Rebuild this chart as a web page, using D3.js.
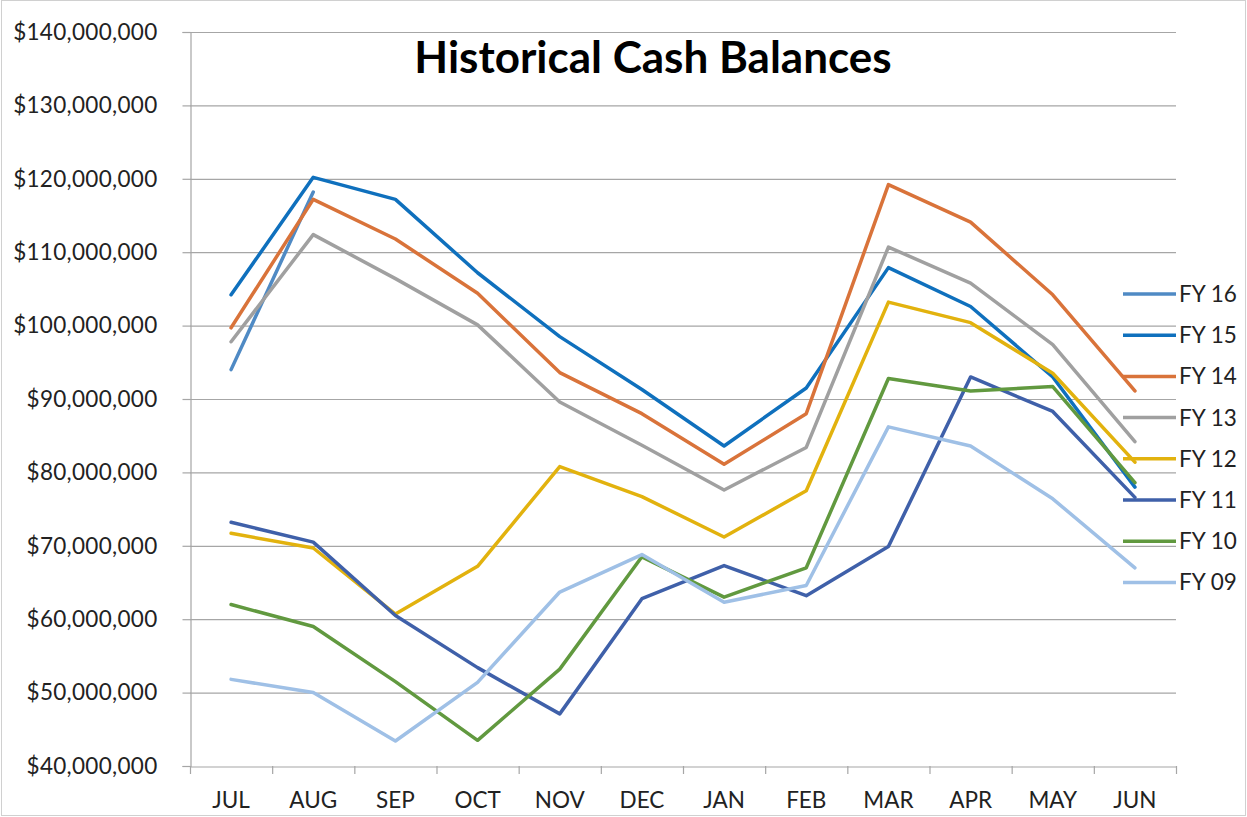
<!DOCTYPE html>
<html>
<head>
<meta charset="utf-8">
<script src="https://cdn.jsdelivr.net/npm/d3@7/dist/d3.min.js"></script>
<style>
  html, body { margin: 0; padding: 0; background: #fff; }
  svg { display: block; }
</style>
</head>
<body>
<svg id="chart" width="1247" height="817"></svg>
<script>
// ---- data (values in $ millions) ----
const months = ["JUL","AUG","SEP","OCT","NOV","DEC","JAN","FEB","MAR","APR","MAY","JUN"];
const seriesNames = ["FY 16","FY 15","FY 14","FY 13","FY 12","FY 11","FY 10","FY 09"];
const fy16 = [94.0, 118.2];
const fy15 = [104.2, 120.2, 117.2, 107.2, 98.5, 91.3, 83.6, 91.5, 107.9, 102.6, 93.0, 78.0];
const fy14 = [99.7, 117.2, 111.8, 104.4, 93.6, 88.0, 81.1, 88.0, 119.2, 114.1, 104.2, 91.1];
const fy13 = [97.8, 112.4, 106.4, 100.1, 89.6, 83.7, 77.6, 83.4, 110.7, 105.8, 97.4, 84.2];
const fy12 = [71.7, 69.7, 60.7, 67.2, 80.8, 76.7, 71.2, 77.5, 103.2, 100.4, 93.5, 81.4];
const fy11 = [73.2, 70.5, 60.5, 53.4, 47.1, 62.8, 67.3, 63.2, 69.9, 93.0, 88.3, 76.6];
const fy10 = [62.0, 59.0, 51.5, 43.5, 53.2, 68.5, 63.0, 67.0, 92.8, 91.1, 91.7, 78.6];
const fy09 = [51.8, 50.0, 43.4, 51.4, 63.7, 68.8, 62.3, 64.6, 86.2, 83.6, 76.4, 67.0];
const yTicks = [40,50,60,70,80,90,100,110,120,130,140];
const colors = ["#4f8ac4","#0f70bd","#d9733a","#a0a0a0","#e2b20e","#3f60a9","#61993f","#9fc0e6"];
const title = "Historical Cash Balances";

const allSeries = [fy16, fy15, fy14, fy13, fy12, fy11, fy10, fy09];

// ---- layout ----
const svg = d3.select("#chart");
const mLeft = 190, mRight = 1176, mTop = 32, mBottom = 766;
const FONT = "Lato, 'Open Sans', sans-serif";

svg.append("rect").attr("x",1.5).attr("y",0.5).attr("width",1244).attr("height",815)
  .attr("fill","#fff").attr("stroke","#d0d0d0").attr("stroke-width",1);

const x = d3.scaleBand().domain(months).range([mLeft, mRight]).padding(0);
const y = d3.scaleLinear().domain([40, 140]).range([mBottom, mTop]);

const fmt = v => "$" + d3.format(",")(v * 1000000);

// gridlines
svg.append("g").selectAll("line").data(yTicks.filter(t => t > 40)).join("line")
  .attr("x1", mLeft).attr("x2", mRight)
  .attr("y1", d => y(d) + 0.5).attr("y2", d => y(d) + 0.5)
  .attr("stroke", "#a6a6a6").attr("stroke-width", 1.2);

// y axis
const yAxis = svg.append("g").attr("transform", `translate(${mLeft+0.5},0)`)
  .call(d3.axisLeft(y).tickValues(yTicks).tickFormat(fmt).tickSize(8).tickPadding(25));
yAxis.select(".domain").attr("stroke", "#a6a6a6").attr("stroke-width", 1.2);
yAxis.selectAll(".tick line").attr("stroke", "#a6a6a6").attr("stroke-width", 1.2);
yAxis.selectAll("text").attr("font-family", FONT)
  .attr("font-size", 22.5).attr("letter-spacing", 0.3).attr("fill", "#222");

// x axis
const xAxis = svg.append("g").attr("transform", `translate(0,${mBottom+0.5})`)
  .call(d3.axisBottom(x).tickSize(0).tickPadding(26));
xAxis.select(".domain").attr("stroke", "#a6a6a6").attr("stroke-width", 1.2);
xAxis.selectAll("text").attr("font-family", FONT)
  .attr("font-size", 22.5).attr("fill", "#222");
// tick marks at band boundaries
const boundaries = months.map(m => x(m)).concat([mRight]);
svg.append("g").selectAll("line").data(boundaries).join("line")
  .attr("x1", d => d + 0.5).attr("x2", d => d + 0.5)
  .attr("y1", mBottom).attr("y2", mBottom + 8)
  .attr("stroke", "#a6a6a6").attr("stroke-width", 1.2);

// lines
const line = d3.line()
  .x((d, i) => x(months[i]) + x.bandwidth() / 2)
  .y(d => y(d));

allSeries.forEach((s, k) => {
  svg.append("path").datum(s)
    .attr("d", line)
    .attr("fill", "none")
    .attr("stroke", colors[k])
    .attr("stroke-width", 3.5)
    .attr("stroke-linejoin", "round")
    .attr("stroke-linecap", "round");
});

// legend
const legend = svg.append("g");
seriesNames.forEach((n, k) => {
  const ly = 294 + k * 41.2;
  legend.append("line").attr("x1", 1123).attr("x2", 1176)
    .attr("y1", ly).attr("y2", ly)
    .attr("stroke", colors[k]).attr("stroke-width", 3.5);
  legend.append("text").attr("x", 1179).attr("y", ly + 8)
    .attr("font-family", FONT).attr("font-size", 22.5)
    .attr("fill", "#222").text(n);
});

// title
svg.append("text").attr("x", 653).attr("y", 73).attr("text-anchor", "middle")
  .attr("font-family", FONT).attr("font-weight", "bold")
  .attr("font-size", 44).attr("fill", "#000").text(title);
</script>
</body>
</html>
